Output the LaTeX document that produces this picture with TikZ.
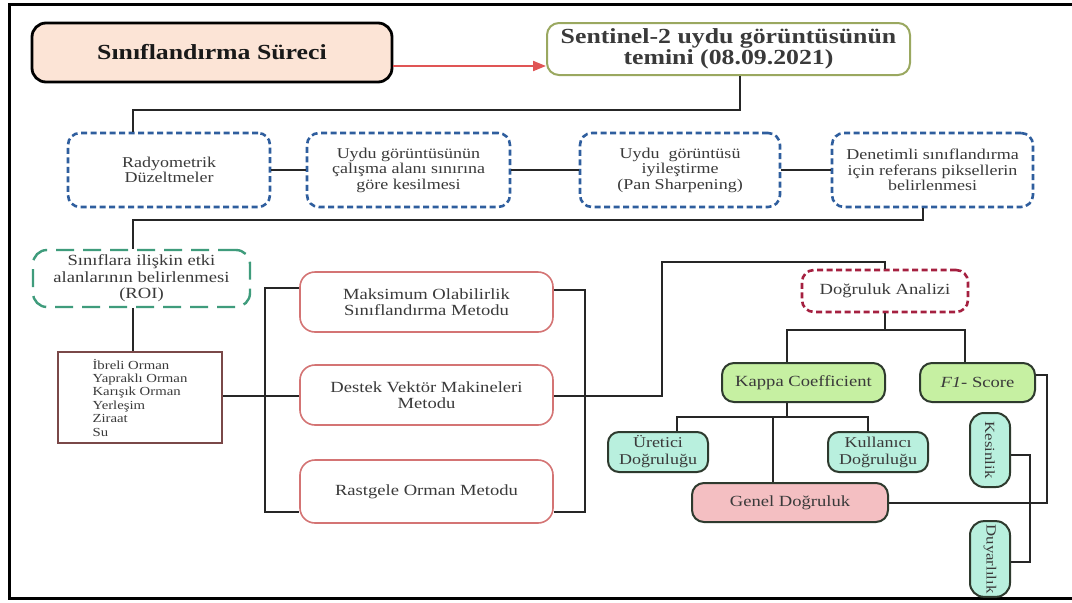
\documentclass[tikz,border=0pt]{standalone}
\usepackage{fontspec}
\setmainfont{Liberation Serif}[FakeStretch=1.2]
\usetikzlibrary{arrows.meta}
\definecolor{peach}{HTML}{FCE4D6}
\definecolor{olive}{HTML}{9AA860}
\definecolor{arrowred}{HTML}{E05555}
\definecolor{boxblue}{HTML}{2F5E9E}
\definecolor{roigreen}{HTML}{3F9C7C}
\definecolor{clsbrown}{HTML}{7A4848}
\definecolor{rose}{HTML}{D47474}
\definecolor{dogred}{HTML}{A52040}
\definecolor{lgreen}{HTML}{C6F0A2}
\definecolor{laqua}{HTML}{B9F0DE}
\definecolor{lpink}{HTML}{F4BFC2}
\definecolor{dborder}{HTML}{2E3A2E}
\definecolor{txtgray}{HTML}{3A3A3A}
\begin{document}
\begin{tikzpicture}[x=1pt,y=-1pt,
  conn/.style={line width=1.8pt, draw=black!85},
  titlebox/.style={draw=black, line width=2.8pt, rounded corners=14pt, fill=peach, font=\bfseries\fontsize{21.5}{23}\selectfont, text=black!90},
  sentbox/.style={draw=olive, line width=2pt, rounded corners=12pt, fill=white, align=center, font=\bfseries\fontsize{21.5}{21.5}\selectfont, text=txtgray},
  bluebox/.style={draw=boxblue, line width=2.6pt, dash pattern=on 6pt off 3.5pt, rounded corners=12pt, fill=white, align=center, font=\fontsize{15}{15.5}\selectfont, text=txtgray, minimum height=74pt},
  roibox/.style={draw=roigreen, line width=2.4pt, dash pattern=on 18pt off 9pt, rounded corners=14pt, fill=white, align=center, font=\fontsize{15.5}{16.5}\selectfont, text=txtgray},
  clsbox/.style={draw=clsbrown, line width=2.8pt, fill=white, align=left, font=\fontsize{12.3}{13.4}\selectfont, text=txtgray},
  methbox/.style={draw=rose, line width=1.6pt, rounded corners=15pt, fill=white, align=center, font=\fontsize{15.5}{16}\selectfont, text=txtgray, minimum width=253pt},
  dogbox/.style={draw=dogred, line width=2.6pt, dash pattern=on 6pt off 3.5pt, rounded corners=12pt, fill=white, align=center, font=\fontsize{15.5}{16}\selectfont, text=txtgray},
  greenbox/.style={draw=dborder, line width=2pt, rounded corners=12pt, fill=lgreen, align=center, font=\fontsize{15.5}{16}\selectfont, text=txtgray},
  aquabox/.style={draw=dborder, line width=2pt, rounded corners=11pt, fill=laqua, align=center, font=\fontsize{15}{17}\selectfont, text=txtgray},
  pinkbox/.style={draw=dborder, line width=2pt, rounded corners=12pt, fill=lpink, align=center, font=\fontsize{15.5}{16}\selectfont, text=txtgray},
  vbox/.style={draw=dborder, line width=2pt, rounded corners=14pt, fill=laqua, align=center, font=\fontsize{14}{15}\selectfont, text=txtgray, minimum width=40pt}
]
\useasboundingbox (0,0) rectangle (1072,603);
\fill[white] (0,0) rectangle (1072,603);
\draw[line width=3pt] (1072,4) -- (9,4) -- (9,598) -- (1072,598);

% nodes
\node[titlebox, minimum width=360pt, minimum height=59pt] (title) at (212,52.5) {Sınıflandırma Süreci};
\node[sentbox, minimum width=363pt, minimum height=52pt] (sent) at (728.5,49) {Sentinel-2 uydu görüntüsünün\\temini (08.09.2021)};

\node[bluebox, minimum width=202pt] (rad) at (169,170) {Radyometrik\\Düzeltmeler};
\node[bluebox, minimum width=203pt] (kes) at (408.5,170) {Uydu görüntüsünün\\çalışma alanı sınırına\\göre kesilmesi};
\node[bluebox, minimum width=200pt] (pan) at (680,170) {Uydu \ görüntüsü\\iyileştirme\\(Pan Sharpening)};
\node[bluebox, minimum width=201pt] (den) at (932.5,170) {Denetimli sınıflandırma\\için referans piksellerin\\belirlenmesi};

\node[roibox, minimum width=217pt, minimum height=57pt] (roi) at (141.5,278.5) {Sınıflara ilişkin etki\\alanlarının belirlenmesi\\(ROI)};
\node[clsbox, minimum width=164pt, minimum height=91pt] (cls) at (140,397.5) {İbreli Orman\\Yapraklı Orman\\Karışık Orman\\Yerleşim\\Ziraat\\Su};

\node[methbox, minimum height=60pt] (mle) at (426.5,302) {Maksimum Olabilirlik\\Sınıflandırma Metodu};
\node[methbox, minimum height=60pt] (svm) at (426.5,395) {Destek Vektör Makineleri\\Metodu};
\node[methbox, minimum height=63pt] (rf) at (426.5,491.5) {Rastgele Orman Metodu};

\node[dogbox, minimum width=166pt, minimum height=42pt] (dog) at (885,291) {Doğruluk Analizi};
\node[greenbox, minimum width=163pt, minimum height=39pt] (kap) at (803.5,382.5) {Kappa Coefficient};
\node[greenbox, minimum width=115pt, minimum height=39pt] (f1) at (977.5,382.5) {\textit{F1}- Score};
\node[aquabox, minimum width=100pt, minimum height=40pt] (ure) at (658,452) {Üretici\\Doğruluğu};
\node[aquabox, minimum width=100pt, minimum height=40pt] (kul) at (878,452) {Kullanıcı\\Doğruluğu};
\node[pinkbox, minimum width=196pt, minimum height=39pt] (gen) at (790,502.5) {Genel Doğruluk};
\node[vbox, minimum height=74pt] (kesn) at (990,450) {\rotatebox{-90}{Kesinlik}};
\node[vbox, minimum height=72pt] (duy) at (990,559) {\rotatebox{-90}{Duyarlılık}};

% connectors
\draw[line width=2pt, draw=arrowred, -{Triangle[length=13pt,width=10pt]}] (title.east |- 0,66) -- (sent.west |- 0,66);
\draw[conn] (sent.south -| 740,0) |- (133,110) -- (rad.north -| 133,0);
\draw[conn] (rad.east) -- (kes.west);
\draw[conn] (kes.east) -- (pan.west);
\draw[conn] (pan.east) -- (den.west);
\draw[conn] (den.south -| 923,0) |- (133,220) -- (roi.north -| 133,0);
\draw[conn] (roi.south -| 133,0) -- (cls.north -| 133,0);
\draw[conn] (cls.east |- 0,396) -- (svm.west |- 0,396);
\draw[conn] (mle.west |- 0,288) -| (265,512) -- (rf.west |- 0,512);
\draw[conn] (mle.east |- 0,290) -| (585,512) -- (rf.east |- 0,512);
\draw[conn] (svm.east |- 0,396) -| (662,262) -| (dog.north);
\draw[conn] (dog.south) -- (885,330);
\draw[conn] (kap.north -| 787,0) |- (965,330) -- (f1.north -| 965,0);
\draw[conn] (kap.south -| 787,0) -- (787,417);
\draw[conn] (ure.north -| 677,0) |- (868,417) -- (kul.north -| 868,0);
\draw[conn] (773,417) -- (gen.north -| 773,0);
\draw[conn] (f1.east |- 0,375) -| (1047,503) -- (gen.east |- 0,503);
\draw[conn, line width=1.4pt] (kesn.east |- 0,455) -| (1030,562) -- (duy.east |- 0,562);
\end{tikzpicture}
\end{document}
